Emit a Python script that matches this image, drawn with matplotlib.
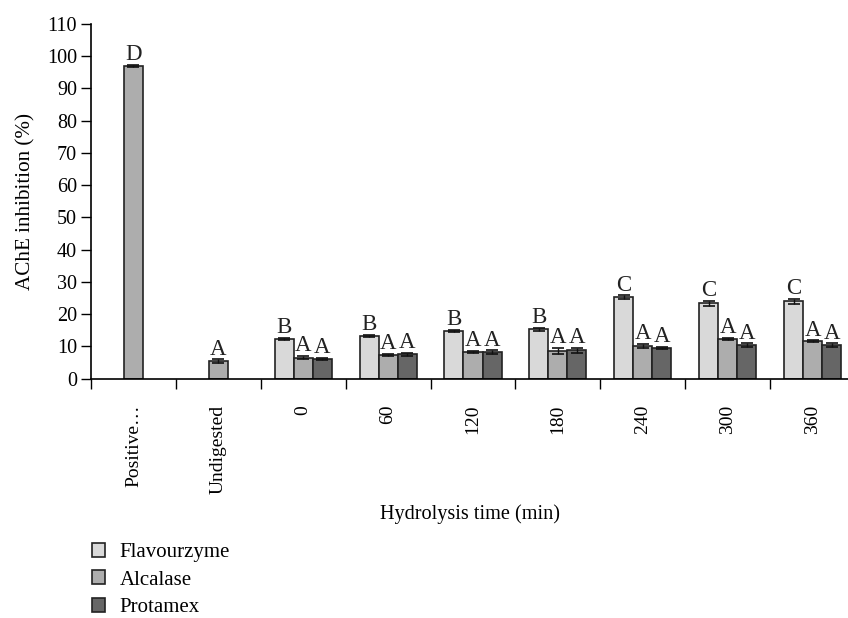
import numpy as np
import matplotlib.pyplot as plt

categories = ['Positive\u2026', 'Undigested', '0', '60', '120', '180', '240', '300', '360']
flavourzyme = [np.nan, np.nan, 12.3, 13.2, 14.7, 15.3, 25.3, 23.4, 23.9]
alcalase = [97.0, 5.4, 6.5, 7.2, 8.3, 8.5, 10.1, 12.2, 11.6]
protamex = [np.nan, np.nan, 6.0, 7.5, 8.1, 8.7, 9.5, 10.4, 10.4]
flav_err = [0, 0, 0.3, 0.2, 0.4, 0.5, 0.5, 0.8, 0.7]
alc_err = [0.3, 0.5, 0.4, 0.3, 0.3, 1.0, 0.6, 0.3, 0.2]
prot_err = [0, 0, 0.4, 0.4, 0.6, 0.8, 0.3, 0.5, 0.5]
flav_letters = ['', '', 'B', 'B', 'B', 'B', 'C', 'C', 'C']
alc_letters = ['D', 'A', 'A', 'A', 'A', 'A', 'A', 'A', 'A']
prot_letters = ['', '', 'A', 'A', 'A', 'A', 'A', 'A', 'A']

plt.rcParams['font.family'] = ['Liberation Serif', 'DejaVu Serif']
plt.rcParams['font.size'] = 14.5

fig = plt.figure(figsize=(8.48, 6.18), dpi=100)
ax = fig.add_axes([91 / 848, 1 - 378.5 / 618, 764 / 848, 354.5 / 618])

x = np.arange(len(categories))
w = 0.224
series = [
    (flavourzyme, flav_err, flav_letters, -w, '#d9d9d9', 'Flavourzyme'),
    (alcalase, alc_err, alc_letters, 0, '#adadad', 'Alcalase'),
    (protamex, prot_err, prot_letters, w, '#666666', 'Protamex'),
]
for vals, errs, letters, off, col, name in series:
    ax.bar(x + off, vals, width=w, color=col, edgecolor='#222222', linewidth=1.2, label=name)
    ax.errorbar(x + off, vals, yerr=errs, fmt='none', ecolor='#111111',
                elinewidth=1, capsize=4.5, capthick=1.2)
    for xi, v, e, lt in zip(x + off, vals, errs, letters):
        if lt:
            ax.text(xi, v + e + 1.5, lt, ha='center', va='baseline', fontsize=16.5, color='#222222')

ax.set_xlim(-0.5, 8.5)
ax.set_ylim(0, 110)
ax.set_yticks(np.arange(0, 111, 10))
ax.set_xticks(x)
ax.set_xticklabels(categories, rotation=90, va='top', fontsize=14)
ax.set_xticks(np.arange(-0.5, 9, 1), minor=True)
ax.tick_params(axis='x', which='major', length=0, pad=19)
ax.tick_params(axis='x', which='minor', length=7, width=1, direction='out')
ax.tick_params(axis='y', length=7, width=1, direction='out', pad=3)
for s in ['top', 'right']:
    ax.spines[s].set_visible(False)
ax.spines['left'].set_linewidth(1.2)
ax.spines['bottom'].set_linewidth(1.2)

ax.set_ylabel('AChE inhibition (%)', fontsize=15.2, labelpad=8.5)
ax.set_xlabel('Hydrolysis time (min)', fontsize=14.6)
ax.xaxis.set_label_coords(379 / 764, -0.355)

handles, labels = ax.get_legend_handles_labels()
fig.legend(handles, labels, loc='upper left', bbox_to_anchor=(91.5 / 848, 1 - 543 / 618),
           frameon=False, handlelength=0.67, handleheight=0.67, handletextpad=0.67,
           labelspacing=0.38, fontsize=15, borderaxespad=0, borderpad=0)

fig.savefig('out.png', dpi=100)
